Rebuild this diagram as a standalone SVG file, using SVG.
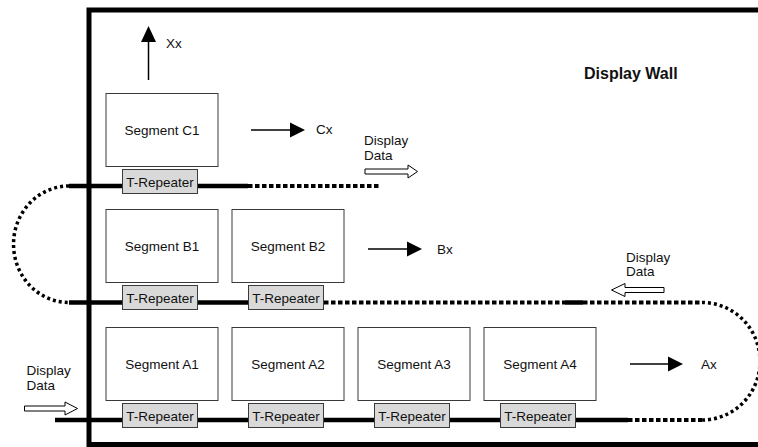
<svg xmlns="http://www.w3.org/2000/svg" width="758" height="447" viewBox="0 0 758 447">
  <defs>
    <style>
      text { font-family: "Liberation Sans", Arial, sans-serif; font-size: 13.5px; fill: #111; }
      .title { font-size: 16px; font-weight: bold; }
      .mid { text-anchor: middle; }
      .seg { fill: #fff; stroke: #3a3a3a; stroke-width: 1; }
      .rep { fill: #d9d9d9; stroke: #3a3a3a; stroke-width: 1; }
      .bus { fill: none; stroke: #000; stroke-width: 4.5; }
      .dots { fill: none; stroke: #000; stroke-width: 4; stroke-dasharray: 4.5 2.5; }
      .loop { fill: none; stroke: #000; stroke-width: 3.5; stroke-dasharray: 3 3; }
      .out { stroke: #000; stroke-width: 1.5; }
      .head { fill: #000; }
      .flow { fill: #fff; stroke: #000; stroke-width: 1; }
    </style>
  </defs>

  <!-- wall frame (right side runs past the edge) -->
  <rect x="89" y="10" width="700" height="434.5" fill="#fff" stroke="#000" stroke-width="5"/>
  <text class="title" x="584" y="78.5">Display Wall</text>

  <!-- bus lines and loop-backs -->
  <g id="connectors">
    <!-- row C -->
    <line class="bus" x1="69" y1="186" x2="248" y2="186"/>
    <line class="dots" x1="248" y1="186" x2="380" y2="186"/>
    <!-- left loop C to B -->
    <path class="loop" d="M 69 186 A 55.5 58.25 0 0 0 69 302.5"/>
    <!-- row B -->
    <line class="bus" x1="69" y1="302.5" x2="324" y2="302.5"/>
    <line class="dots" x1="324" y1="302.5" x2="565" y2="302.5"/>
    <line class="bus" x1="565" y1="302.5" x2="583" y2="302.5"/>
    <line class="dots" x1="583" y1="302.5" x2="702" y2="302.5"/>
    <!-- right loop A to B -->
    <path class="loop" d="M 702 302.5 A 58 58.75 0 0 1 702 420"/>
    <!-- row A -->
    <line class="bus" x1="55" y1="420" x2="628" y2="420"/>
    <line class="dots" x1="628" y1="420" x2="702" y2="420"/>

    <!-- outputs -->
    <line class="out" x1="148.5" y1="80" x2="148.5" y2="41"/>
    <polygon class="head" points="141,42 156,42 148.5,26"/>
    <line class="out" x1="251" y1="130" x2="291" y2="130"/>
    <polygon class="head" points="290,122.5 290,137.5 305,130"/>
    <line class="out" x1="368" y1="249" x2="408" y2="249"/>
    <polygon class="head" points="407,241.5 407,256.5 422,249"/>
    <line class="out" x1="630" y1="364" x2="669" y2="364"/>
    <polygon class="head" points="668,356.5 668,371.5 683,364"/>

    <!-- data flow arrows -->
    <polygon class="flow" points="365,169 408,169 408,165 417.5,171.5 408,178 408,174 365,174"/>
    <polygon class="flow" points="664,287.5 625,287.5 625,283.5 611.5,290 625,296.5 625,292.5 664,292.5"/>
    <polygon class="flow" points="24.5,406 65,406 65,402 77.5,408.5 65,415 65,411 24.5,411"/>
  </g>

  <!-- output and flow labels -->
  <g id="labels">
    <text x="166" y="48">Xx</text>
    <text x="316" y="134">Cx</text>
    <text x="437" y="253.5">Bx</text>
    <text x="701" y="368.5">Ax</text>
    <text x="364" y="145">Display</text>
    <text x="364" y="159.5">Data</text>
    <text x="626" y="261.5">Display</text>
    <text x="626" y="276">Data</text>
    <text x="26.5" y="375">Display</text>
    <text x="26.5" y="389.5">Data</text>
  </g>

  <!-- row C -->
  <g id="segment-c1">
    <rect class="seg" x="106" y="93.5" width="112" height="73"/>
    <text class="mid" x="162" y="135">Segment C1</text>
  </g>
  <g id="repeater-c1">
    <rect class="rep" x="122.5" y="169.5" width="75" height="24"/>
    <text class="mid" x="160" y="186.5">T-Repeater</text>
  </g>

  <!-- row B -->
  <g id="segment-b1">
    <rect class="seg" x="106" y="209.5" width="112" height="73"/>
    <text class="mid" x="162" y="251">Segment B1</text>
  </g>
  <g id="segment-b2">
    <rect class="seg" x="232" y="209.5" width="112" height="73"/>
    <text class="mid" x="288" y="251">Segment B2</text>
  </g>
  <g id="repeater-b1">
    <rect class="rep" x="122.5" y="285.5" width="75" height="24"/>
    <text class="mid" x="160" y="302.5">T-Repeater</text>
  </g>
  <g id="repeater-b2">
    <rect class="rep" x="248.5" y="285.5" width="75" height="24"/>
    <text class="mid" x="286" y="302.5">T-Repeater</text>
  </g>

  <!-- row A -->
  <g id="segment-a1">
    <rect class="seg" x="106" y="327.5" width="112" height="73"/>
    <text class="mid" x="162" y="369">Segment A1</text>
  </g>
  <g id="segment-a2">
    <rect class="seg" x="232" y="327.5" width="112" height="73"/>
    <text class="mid" x="288" y="369">Segment A2</text>
  </g>
  <g id="segment-a3">
    <rect class="seg" x="358" y="327.5" width="112" height="73"/>
    <text class="mid" x="414" y="369">Segment A3</text>
  </g>
  <g id="segment-a4">
    <rect class="seg" x="484" y="327.5" width="112" height="73"/>
    <text class="mid" x="540" y="369">Segment A4</text>
  </g>
  <g id="repeater-a1">
    <rect class="rep" x="122.5" y="403.5" width="75" height="24"/>
    <text class="mid" x="160" y="420.5">T-Repeater</text>
  </g>
  <g id="repeater-a2">
    <rect class="rep" x="248.5" y="403.5" width="75" height="24"/>
    <text class="mid" x="286" y="420.5">T-Repeater</text>
  </g>
  <g id="repeater-a3">
    <rect class="rep" x="374.5" y="403.5" width="75" height="24"/>
    <text class="mid" x="412" y="420.5">T-Repeater</text>
  </g>
  <g id="repeater-a4">
    <rect class="rep" x="500.5" y="403.5" width="75" height="24"/>
    <text class="mid" x="538" y="420.5">T-Repeater</text>
  </g>
</svg>
